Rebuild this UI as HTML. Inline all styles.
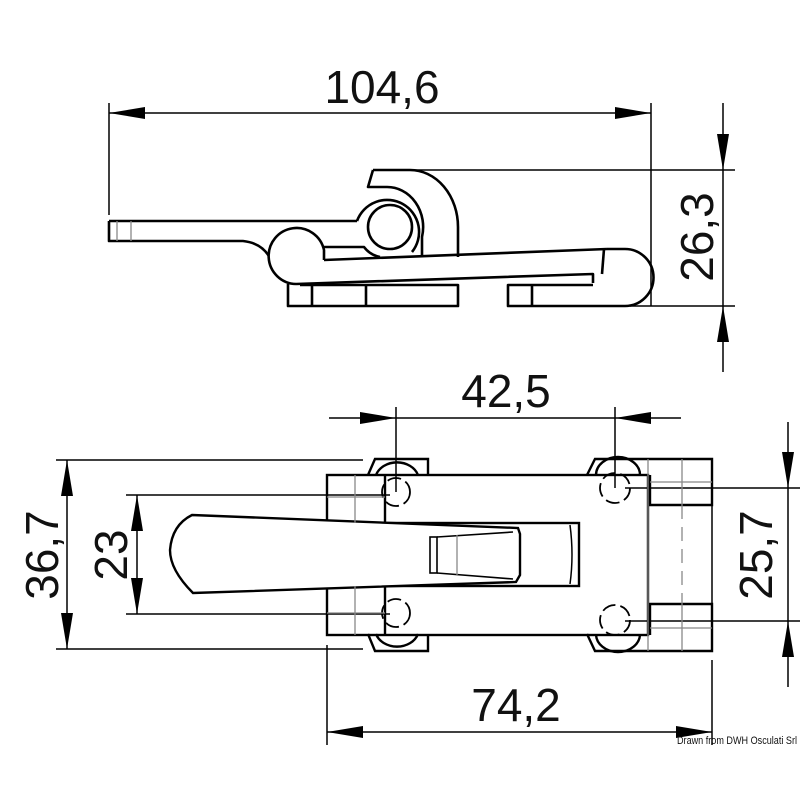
<!DOCTYPE html>
<html><head><meta charset="utf-8"><style>
html,body{margin:0;padding:0;background:#fff;}
svg{display:block;}
text{font-family:"Liberation Sans",sans-serif;fill:#111;}
</style></head><body>
<svg width="800" height="800" viewBox="0 0 800 800" xmlns="http://www.w3.org/2000/svg">
<defs>
<marker id="a" viewBox="0 0 36 12" refX="36" refY="6" markerWidth="36" markerHeight="12" markerUnits="userSpaceOnUse" orient="auto-start-reverse"><path d="M0,0 L36,6 L0,12 Z" fill="#000"/></marker>
</defs>
<g stroke="#000" fill="none" stroke-width="1.5">
<line x1="109" y1="103" x2="109" y2="215"/>
<line x1="651" y1="103" x2="651" y2="306"/>
<line x1="109" y1="113" x2="651" y2="113" marker-start="url(#a)" marker-end="url(#a)"/>
<line x1="395" y1="170" x2="735" y2="170"/>
<line x1="630" y1="306" x2="735" y2="306"/>
<line x1="723" y1="103" x2="723" y2="170" marker-end="url(#a)"/>
<line x1="723" y1="372" x2="723" y2="306" marker-end="url(#a)"/>
<line x1="723" y1="170" x2="723" y2="306"/>
</g>
<g stroke="#000" fill="none" stroke-width="2.6" stroke-linejoin="round">
<path d="M109,221 L357,221"/>
<path d="M109,221 L109,241 L243,241 Q262,243 270,258"/>
<circle cx="390" cy="227" r="22"/>
<path d="M357,221 A32,32 0 1 1 412,252"/>
<path d="M373,170 L410,170 A48,57 0 0 1 458,227 L458,257"/>
<path d="M373,170 L368,187 L387,187 A36,40 0 0 1 422,237 L422,255"/>
<path d="M324,260 L324,250 A28,28 0 1 0 296,284" fill="#fff"/>
<path d="M324,247 L364,247 Q370,255 380,257"/>
<path d="M324,260 L607,249"/>
<path d="M296,284 L593,274 L593,283"/>
<path d="M607,249 L625,249 A28,28 0 0 1 625,306 L508,306 L508,285 L593,285"/>
<path d="M288,284 L288,306 L458,306 L458,285 L300,285"/>
<line x1="312" y1="285" x2="312" y2="306"/>
<line x1="366" y1="285" x2="366" y2="306"/>
<line x1="532" y1="285" x2="532" y2="306"/>
<line x1="604" y1="249" x2="602" y2="274"/>
</g>
<g stroke="#888" stroke-width="1.3"><line x1="117" y1="221" x2="117" y2="241"/><line x1="131" y1="221" x2="131" y2="241"/></g>
<g stroke="#000" fill="none" stroke-width="1.5">
<line x1="396" y1="407" x2="396" y2="492"/>
<line x1="615" y1="407" x2="615" y2="488"/>
<line x1="329" y1="418" x2="396" y2="418" marker-end="url(#a)"/>
<line x1="681" y1="418" x2="615" y2="418" marker-end="url(#a)"/>
<line x1="396" y1="418" x2="615" y2="418"/>
<line x1="56" y1="460" x2="363" y2="460"/>
<line x1="56" y1="649" x2="363" y2="649"/>
<line x1="67" y1="460" x2="67" y2="649" marker-start="url(#a)" marker-end="url(#a)"/>
<line x1="126" y1="495" x2="390" y2="495"/>
<line x1="126" y1="614" x2="390" y2="614"/>
<line x1="137" y1="495" x2="137" y2="614" marker-start="url(#a)" marker-end="url(#a)"/>
<line x1="625" y1="488" x2="800" y2="488"/>
<line x1="625" y1="621" x2="800" y2="621"/>
<line x1="788" y1="422" x2="788" y2="488" marker-end="url(#a)"/>
<line x1="788" y1="687" x2="788" y2="621" marker-end="url(#a)"/>
<line x1="788" y1="488" x2="788" y2="621"/>
<line x1="327" y1="645" x2="327" y2="745"/>
<line x1="712" y1="660" x2="712" y2="745"/>
<line x1="327" y1="732" x2="712" y2="732" marker-start="url(#a)" marker-end="url(#a)"/>
</g>
<g stroke="#000" fill="none" stroke-width="2.4" stroke-linejoin="miter">
<path d="M368,475 L375,459 L428,459 L428,475"/>
<path d="M368,634 L375,651 L428,651 L428,634"/>
<path d="M587,475 L595,459 L648,459"/>
<path d="M587,634 L595,651 L648,651"/>
<path d="M376,475 A22,18 0 0 1 418,475"/>
<path d="M376,634 A22,18 0 0 0 418,634"/>
<path d="M596,475 A22,18 0 0 1 640,475"/>
<path d="M596,634 A22,18 0 0 0 640,634"/>
<rect x="327" y="475" width="321" height="160"/>
<line x1="385" y1="475" x2="385" y2="523"/>
<line x1="385" y1="586" x2="385" y2="635"/>
<line x1="327" y1="523" x2="385" y2="523"/>
<line x1="327" y1="586" x2="385" y2="586"/>
<path d="M648,459 L712,459 L712,505 L650,505 L650,475"/>
<path d="M648,651 L712,651 L712,604 L650,604 L650,635"/>
<line x1="712" y1="505" x2="712" y2="604" stroke-width="1.5"/>
<rect x="327" y="523" width="252" height="63" fill="#fff"/>
<path d="M417,529 L417,580"/>
<path d="M570,525 Q574,555 570,584" stroke-width="1.5"/>
<path d="M192,515 L518,528 L520,534 L520,575 L516,582 L193,593 Q170,570 170,550 Q172,525 192,515 Z" fill="#fff"/>
<rect x="430" y="537" width="7" height="36" stroke-width="1.6"/>
<path d="M437,537 L513,532 M437,573 L513,579" stroke-width="1.6"/>
</g>
<g stroke="#000" fill="none" stroke-width="1.8" stroke-dasharray="14,5">
<circle cx="396" cy="492" r="14"/>
<circle cx="396" cy="613" r="14"/>
<circle cx="615" cy="488" r="15"/>
<circle cx="615" cy="620" r="15"/>
</g>
<g stroke="#888" stroke-width="1.3" fill="none">
<line x1="355" y1="475" x2="355" y2="523"/><line x1="327" y1="497" x2="385" y2="497"/>
<line x1="355" y1="586" x2="355" y2="635"/><line x1="327" y1="613" x2="385" y2="613"/>
<line x1="682" y1="459" x2="682" y2="505"/><line x1="650" y1="482" x2="712" y2="482"/>
<line x1="682" y1="604" x2="682" y2="651"/><line x1="650" y1="628" x2="712" y2="628"/>
<line x1="682" y1="505" x2="682" y2="604" stroke-dasharray="14,8"/>
<line x1="648" y1="459" x2="648" y2="651"/>
<line x1="457" y1="535" x2="457" y2="575"/>
</g>
<text x="382" y="103" font-size="46" text-anchor="middle">104,6</text>
<text x="506" y="407" font-size="46" text-anchor="middle">42,5</text>
<text x="516" y="721" font-size="46" text-anchor="middle">74,2</text>
<text transform="translate(713,237) rotate(-90)" font-size="46" text-anchor="middle">26,3</text>
<text transform="translate(772,555) rotate(-90)" font-size="46" text-anchor="middle">25,7</text>
<text transform="translate(58,555) rotate(-90)" font-size="46" text-anchor="middle">36,7</text>
<text transform="translate(127,555) rotate(-90)" font-size="46" text-anchor="middle">23</text>
<text x="677" y="744" font-size="11" textLength="120" lengthAdjust="spacingAndGlyphs">Drawn from DWH Osculati Srl</text>
</svg>
</body></html>
